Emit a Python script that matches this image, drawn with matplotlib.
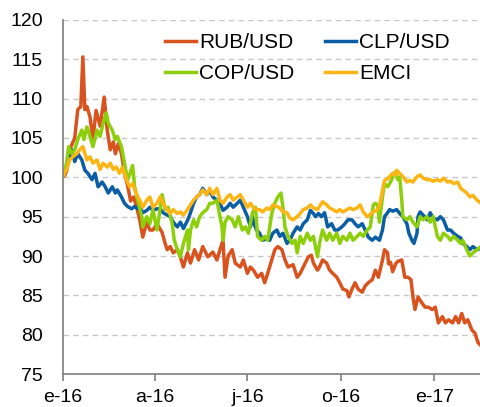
import matplotlib
matplotlib.use('Agg')
import matplotlib.pyplot as plt
import pandas as pd

plt.rcParams['font.family'] = ['Liberation Sans', 'DejaVu Sans']

# days since 2016-01-01 and index values
rub_days = [0, 2, 4, 7, 12, 15, 18, 20, 22, 24, 27, 30, 33, 37, 41, 44, 47, 50, 52, 55, 58, 61, 64, 67, 70,
            73, 76, 79, 83, 86, 89, 93, 98, 101, 103, 106, 109, 113, 116, 119, 123, 126, 130, 134, 138, 143,
            148, 152, 155, 158, 160, 163, 167, 170, 175, 178, 182, 185, 188, 192, 196, 199, 202, 206, 209,
            212, 216, 219, 222, 227, 231, 234, 239, 242, 245, 247, 251, 253, 256, 260, 263, 266, 270, 273,
            276, 280, 282, 285, 288, 291, 295, 298, 301, 305, 308, 311, 315, 317, 320, 321, 323, 325, 328,
            330, 334, 337, 340, 343, 345, 347, 350, 354, 357, 360, 364, 367, 370, 374, 377, 380, 384, 387,
            390, 393, 396, 399, 403, 406, 409, 412]
rub_vals = [100, 100.2, 100.8, 103.5, 105, 108.6, 109, 115.3, 108.6, 109, 107.7, 104.8, 108.5, 106.5, 110.2,
            106, 103.5, 104.5, 103, 104.3, 103, 100.5, 99, 97, 97.5, 96.2, 94.6, 92.4, 94.3, 93.3, 93.3, 94.1,
            93, 91.6, 90.8, 91.2, 90.4, 90.8, 89.9, 88.6, 90.4, 89.1, 90.8, 89.5, 91.2, 89.9, 90.5, 89.5, 90.8,
            92, 87.3, 90, 90.8, 89.1, 88.6, 89.5, 87.8, 88.6, 88.2, 87.3, 87.8, 86.6, 87.8, 89.5, 90.8, 91.2,
            90.8, 89.5, 88.6, 88.9, 87.3, 87.8, 89.1, 89.9, 90.1, 89.1, 88.2, 88.6, 89.5, 89.1, 88.2, 87.8,
            87.3, 86.6, 85.8, 85.6, 84.8, 85.8, 86.6, 85.8, 85.4, 86.2, 86.6, 87, 88.2, 87.3, 89.5, 90.8, 90.4,
            89, 89.2, 88, 89, 89.3, 89.5, 87.3, 87.3, 87, 84.8, 83.2, 84.8, 84, 83.5, 83.5, 83.2, 83.5, 81.5,
            82.3, 81.5, 81.9, 81.5, 82.3, 81.5, 82.7, 81.5, 81.9, 80.6, 80.2, 79, 78.6]

clp_days = [0, 4, 9, 12, 15, 19, 22, 25, 29, 32, 35, 39, 42, 45, 49, 52, 54, 58, 61, 64, 68, 71, 74, 76, 79,
            83, 86, 89, 93, 96, 99, 103, 106, 109, 113, 116, 119, 123, 126, 129, 132, 135, 138, 142, 145, 148,
            152, 155, 158, 162, 165, 168, 172, 175, 178, 182, 185, 187, 188, 191, 194, 197, 201, 204, 207, 211,
            214, 217, 221, 224, 227, 231, 234, 237, 241, 244, 247, 249, 252, 255, 258, 261, 265, 268, 271, 275,
            278, 281, 285, 288, 291, 295, 298, 301, 305, 308, 312, 315, 317, 320, 322, 325, 329, 332, 335, 339,
            341, 344, 346, 349, 350, 352, 355, 359, 362, 365, 369, 372, 375, 379, 382, 385, 389, 392, 394, 398,
            401, 404, 408, 412]
clp_vals = [100, 101.3, 103.5, 102, 103, 102.2, 100.9, 100.5, 99.7, 100.5, 98.8, 99.4, 98.8, 98, 98.8, 98,
            98.4, 97.5, 96.7, 96.3, 96, 96.3, 96, 96.2, 95.5, 95.8, 96.2, 95.8, 96, 96, 95.5, 95.2, 95, 94.3,
            93.7, 94.3, 93.5, 94.5, 95.5, 96.7, 97.5, 97.8, 98.6, 97.8, 98.3, 97.5, 97.1, 96.7, 95.8, 96.2,
            96.7, 96.2, 96.7, 97.1, 96.2, 95, 93.7, 95, 94.3, 93.3, 92.9, 92, 92.2, 92, 92.9, 93.3, 92.5, 92.9,
            91.6, 92, 92.9, 93.7, 93.3, 94.1, 94.6, 95.8, 95.4, 95, 95.4, 95, 95.5, 93.7, 94.1, 93.3, 93.3,
            93.7, 94.1, 94.6, 94.6, 94.1, 93.7, 94.1, 93.3, 92.4, 92, 92.4, 92, 93.3, 95, 95.5, 95.9, 95.7,
            95.9, 95.4, 95, 94.1, 92.9, 92, 91.6, 92.9, 95, 95.6, 95.2, 94.6, 95.5, 94.8, 94.6, 95, 94.6, 93.3,
            93.3, 92.9, 92.5, 92.3, 91.6, 91.2, 90.8, 91.2, 90.8, 91]

cop_days = [0, 4, 6, 9, 12, 15, 19, 21, 24, 27, 30, 34, 37, 40, 43, 45, 49, 52, 54, 58, 61, 64, 66, 69, 71,
            74, 78, 79, 83, 86, 89, 93, 95, 98, 101, 104, 108, 110, 113, 116, 119, 123, 124, 126, 129, 132, 135,
            138, 142, 145, 148, 152, 155, 157, 158, 160, 163, 167, 170, 173, 177, 180, 183, 187, 190, 191, 192,
            196, 199, 202, 206, 209, 212, 215, 217, 219, 222, 226, 229, 231, 234, 237, 241, 244, 247, 251, 253,
            256, 260, 263, 266, 270, 273, 276, 280, 283, 286, 290, 293, 296, 300, 303, 306, 308, 310, 312, 315,
            317, 320, 322, 324, 326, 328, 330, 332, 334, 335, 339, 342, 345, 349, 352, 355, 359, 362, 365, 369,
            372, 375, 379, 382, 385, 389, 392, 394, 398, 401, 404, 408, 412]
cop_vals = [100, 101.8, 103.9, 103, 103.5, 104.8, 106, 104.8, 106.4, 105.2, 103.9, 106, 105.2, 106.9, 108.2,
            106.9, 106, 104.8, 105.2, 103.9, 101.8, 99.7, 100.3, 101.5, 98.8, 97.1, 95, 93.7, 95, 94.1, 95.9,
            93.3, 95, 97.8, 95.9, 96.2, 94.1, 92, 90.8, 89.9, 91.6, 93.3, 90.8, 93.3, 94.6, 93.7, 95, 95.5,
            95.9, 96.7, 96.7, 97.1, 95, 93.7, 92, 94.3, 95, 94.6, 93.7, 95, 93.3, 93.7, 92.9, 95.5, 96.2, 94.3,
            92.5, 92, 92.5, 92, 95.4, 96.7, 97.5, 98, 96.2, 93.7, 92.5, 91.6, 92, 90.4, 92.5, 91.6, 92.9, 92,
            92.5, 89.9, 91.6, 93.3, 92, 92.9, 92, 92.9, 91.6, 92.5, 92, 92.9, 92, 92.5, 92.9, 92.5, 93.3, 93.7,
            96.5, 96.7, 96.5, 94.3, 97.5, 99.2, 98.8, 99.2, 99.7, 100.5, 100.7, 99.7, 100, 97.1, 95, 94.6, 95,
            94.3, 93.7, 95, 94.6, 95, 94.3, 95, 92.5, 92, 92.9, 92.5, 92, 92.5, 92, 91.6, 92, 90.8, 90, 90.4,
            90.8, 91.2]

emci_days = [0, 4, 7, 10, 14, 17, 20, 24, 27, 30, 34, 37, 40, 44, 47, 50, 53, 56, 59, 63, 66, 69, 73, 76, 79,
             83, 86, 89, 93, 96, 99, 103, 106, 109, 113, 116, 119, 123, 126, 129, 132, 135, 138, 142, 145, 148,
             152, 155, 158, 162, 165, 168, 172, 175, 178, 182, 185, 188, 191, 194, 197, 201, 204, 207, 211, 214,
             217, 221, 224, 227, 231, 234, 237, 241, 244, 247, 251, 253, 256, 260, 263, 266, 270, 273, 276, 280,
             283, 286, 290, 293, 296, 300, 303, 306, 310, 312, 315, 317, 320, 322, 325, 328, 329, 332, 335, 339,
             342, 345, 349, 352, 355, 359, 362, 365, 369, 372, 375, 379, 382, 385, 389, 392, 394, 398, 401, 404,
             408, 412]
emci_vals = [100, 101, 102.2, 102.6, 103, 103.5, 103.9, 102.2, 102.6, 101.8, 102.2, 101, 101.8, 101.3, 101.8,
             101, 101.3, 100.5, 101.3, 99.7, 98.8, 99.2, 97.8, 97.1, 96.2, 97.1, 97.5, 96.2, 96.7, 97.5, 96.7,
             95.9, 95.4, 95.9, 95.4, 95.6, 95.2, 95.9, 96.5, 97.1, 97.5, 97.8, 98.4, 97.8, 98.6, 97.8, 98.6,
             97.1, 96.7, 97.5, 97.8, 97.1, 97.5, 97.8, 97.1, 96.2, 96.7, 96.1, 95.9, 95.9, 95.6, 96.1, 95.9,
             96.5, 96.3, 96.1, 95.6, 95.5, 94.8, 94.6, 95, 95.4, 95.9, 96.1, 96.5, 96.1, 95.9, 96.3, 96.9, 96.5,
             96.1, 95.9, 95.6, 95.9, 95.6, 95.9, 96.1, 95.9, 96.1, 96.5, 95.6, 95, 95.3, 95.6, 95.9, 96.3, 98.4,
             99.6, 99.8, 100.1, 100.5, 100.3, 100.9, 100.5, 100.1, 99.4, 99.6, 99.4, 100.1, 100.3, 99.9, 99.7,
             99.7, 99.5, 99.7, 99.5, 99.9, 99.4, 99.5, 99.2, 99.4, 98.6, 98.4, 98, 97.5, 97.7, 97.1, 96.7]

series = [
    ('RUB/USD', rub_days, rub_vals, '#D9531E'),
    ('CLP/USD', clp_days, clp_vals, '#0B5DA4'),
    ('COP/USD', cop_days, cop_vals, '#8CCF0A'),
    ('EMCI', emci_days, emci_vals, '#FDB515'),
]

tick_dates = ['2016-01-01', '2016-04-01', '2016-07-01', '2016-10-01', '2017-01-01']
tick_labels = ['e-16', 'a-16', 'j-16', 'o-16', 'e-17']
start = pd.Timestamp('2016-01-01')

fig = plt.figure(figsize=(4.81, 4.07), dpi=100)
ax = fig.add_axes([0.130, 0.081, 0.870, 0.870])

lines = {}
for name, days, vals, col in series:
    x = start + pd.to_timedelta(days, unit='D')
    ln, = ax.plot(x, vals, color=col, lw=2.5, label=name, solid_joinstyle='round')
    lines[name] = ln

ax.set_ylim(75, 120)
ax.set_yticks(range(75, 121, 5))
ax.set_xlim(start, start + pd.Timedelta(days=412))
ax.set_xticks(pd.to_datetime(tick_dates))
ax.set_xticklabels(tick_labels)

ax.yaxis.grid(True, linestyle=(0, (4, 3)), color='#C8C8C8', lw=1)
ax.set_axisbelow(True)
for s in ['top', 'right']:
    ax.spines[s].set_visible(False)
for s in ['left', 'bottom']:
    ax.spines[s].set_color('#7F7F7F')
    ax.spines[s].set_linewidth(1.2)

ax.tick_params(axis='y', length=0, pad=14, labelsize=14)
ax.tick_params(axis='x', length=5, width=1.2, color='#7F7F7F', pad=6, labelsize=14, direction='out')

order = ['RUB/USD', 'COP/USD', 'CLP/USD', 'EMCI']
ax.legend([lines[n] for n in order], order, ncol=2, loc='upper left',
          bbox_to_anchor=(0.245, 0.962), frameon=False, fontsize=15,
          handlelength=1.5, handletextpad=0.15, columnspacing=1.45,
          labelspacing=0.55, borderpad=0, borderaxespad=0)

plt.savefig('out.png', dpi=100)
